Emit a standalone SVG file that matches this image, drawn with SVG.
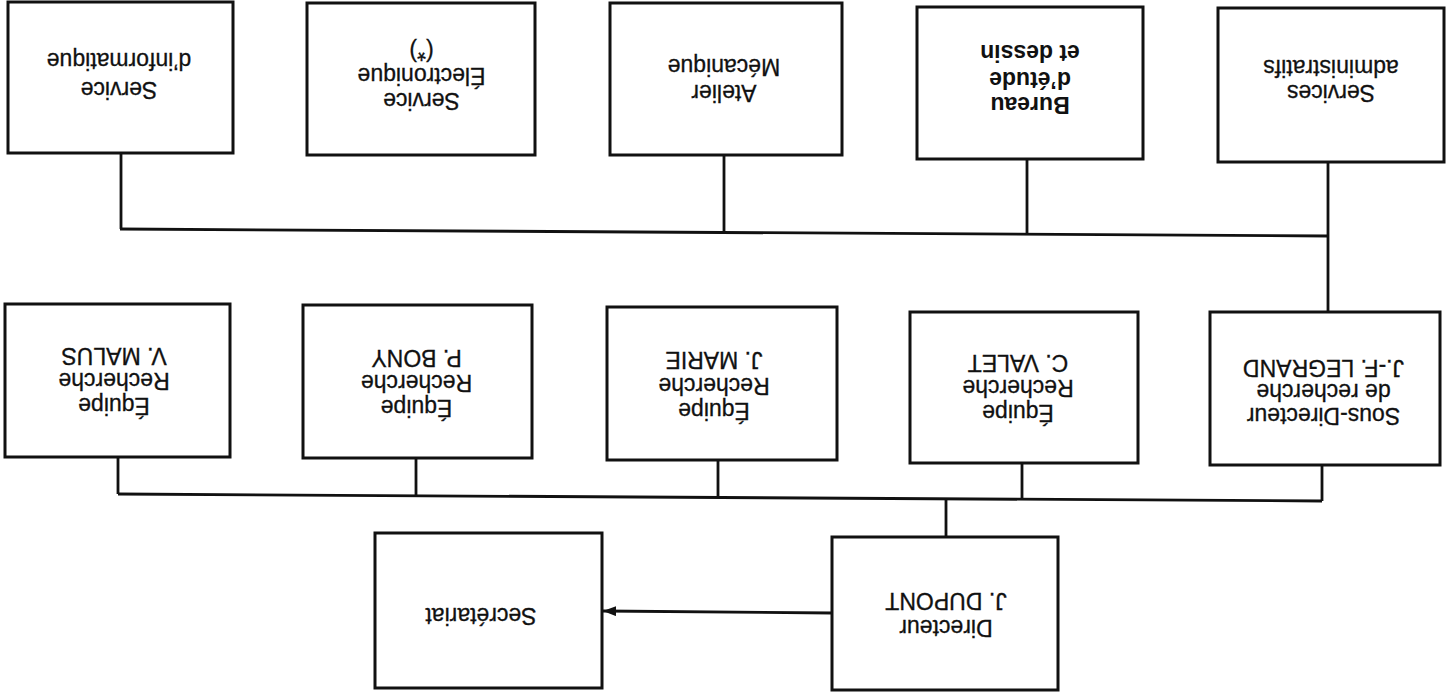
<svg xmlns="http://www.w3.org/2000/svg" width="1448" height="697" viewBox="0 0 1448 697">
<style>
.box{fill:#fff;stroke:#111;stroke-width:3}
.ln{fill:none;stroke:#111;stroke-width:2.8}
.t{font-family:"Liberation Sans",Arial,sans-serif;font-size:23px;text-anchor:middle;fill:#111;stroke:#111;stroke-width:0.3}
.b{font-weight:bold;stroke-width:0}
</style>
<defs>
<marker id="ah" markerWidth="13" markerHeight="10" refX="13" refY="5" orient="auto" markerUnits="userSpaceOnUse">
<path d="M0,0 L13,5 L0,10 Z" fill="#111"/>
</marker>
</defs>
<rect width="1448" height="697" fill="#fff"/>
<g id="connectors">
<line class="ln" x1="120" y1="229" x2="1328" y2="236"/>
<line class="ln" x1="121" y1="153" x2="121" y2="229"/>
<line class="ln" x1="724" y1="155" x2="724" y2="232"/>
<line class="ln" x1="1027" y1="159" x2="1027" y2="234"/>
<line class="ln" x1="1328" y1="162" x2="1328" y2="313"/>
<line class="ln" x1="118" y1="494" x2="1322" y2="501"/>
<line class="ln" x1="118" y1="457" x2="118" y2="494"/>
<line class="ln" x1="416" y1="458" x2="416" y2="496"/>
<line class="ln" x1="718" y1="460" x2="718" y2="497"/>
<line class="ln" x1="1022" y1="463" x2="1022" y2="499"/>
<line class="ln" x1="1322" y1="465" x2="1322" y2="501"/>
<line class="ln" x1="946" y1="499" x2="946" y2="537"/>
<line class="ln" x1="832" y1="613" x2="603" y2="611" marker-end="url(#ah)"/>
</g>
<g id="n-informatique">
<rect class="box" x="8" y="2" width="225" height="151"/>
<g transform="rotate(180 120.5 77.5)"><text class="t" x="122" y="73">Service</text><text class="t" x="122" y="102">d’informatique</text></g>
</g>
<g id="n-electronique">
<rect class="box" x="307" y="3" width="228" height="152"/>
<g transform="rotate(180 421 79)"><text class="t" x="420.5" y="65">Service</text><text class="t" x="420.5" y="90">Électronique</text><text class="t" x="420.5" y="114">(*)</text></g>
</g>
<g id="n-atelier">
<rect class="box" x="610" y="3" width="232" height="152"/>
<g transform="rotate(180 726 79)"><text class="t" x="728" y="73">Atelier</text><text class="t" x="728" y="99">Mécanique</text></g>
</g>
<g id="n-bureau">
<rect class="box" x="917" y="7" width="226" height="152"/>
<g transform="rotate(180 1030 83)"><text class="t b" x="1030" y="69">Bureau</text><text class="t b" x="1030" y="94">d’étude</text><text class="t b" x="1030" y="121">et dessin</text></g>
</g>
<g id="n-admin">
<rect class="box" x="1218" y="8" width="226" height="154"/>
<g transform="rotate(180 1331 85)"><text class="t" x="1331" y="85">Services</text><text class="t" x="1331" y="110">administratifs</text></g>
</g>
<g id="n-malus">
<rect class="box" x="5" y="304" width="225" height="153"/>
<g transform="rotate(180 117.5 380.5)"><text class="t" x="121" y="363">Équipe</text><text class="t" x="121" y="388">Recherche</text><text class="t" x="121" y="413">V. MALUS</text></g>
</g>
<g id="n-bony">
<rect class="box" x="303" y="305" width="229" height="153"/>
<g transform="rotate(180 417.5 381.5)"><text class="t" x="418.5" y="363">Équipe</text><text class="t" x="418.5" y="388">Recherche</text><text class="t" x="418.5" y="413">P. BONY</text></g>
</g>
<g id="n-marie">
<rect class="box" x="607" y="307" width="230" height="153"/>
<g transform="rotate(180 722 383.5)"><text class="t" x="730" y="364">Équipe</text><text class="t" x="730" y="389.5">Recherche</text><text class="t" x="730" y="415">J. MARIE</text></g>
</g>
<g id="n-valet">
<rect class="box" x="910" y="312" width="228" height="151"/>
<g transform="rotate(180 1024 387.5)"><text class="t" x="1030" y="370">Équipe</text><text class="t" x="1030" y="395">Recherche</text><text class="t" x="1030" y="420">C. VALET</text></g>
</g>
<g id="n-legrand">
<rect class="box" x="1210" y="312" width="230" height="153"/>
<g transform="rotate(180 1325 388.5)"><text class="t" x="1326.5" y="369">Sous-Directeur</text><text class="t" x="1326.5" y="393">de recherche</text><text class="t" x="1326.5" y="417">J.-F. LEGRAND</text></g>
</g>
<g id="n-dupont">
<rect class="box" x="832" y="537" width="226" height="153"/>
<g transform="rotate(180 945 613.5)"><text class="t" x="944" y="607">Directeur</text><text class="t" x="944" y="634">J. DUPONT</text></g>
</g>
<g id="n-secretariat">
<rect class="box" x="375" y="533" width="227" height="155"/>
<g transform="rotate(180 488.5 610.5)"><text class="t" x="496" y="613">Secrétariat</text></g>
</g>
</svg>
